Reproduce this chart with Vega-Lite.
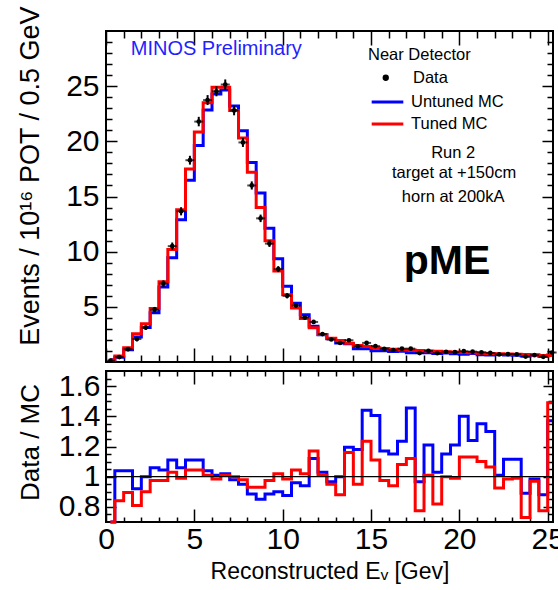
{
  "$schema": "https://vega.github.io/schema/vega-lite/v6.json",
  "background": "white",
  "padding": {"left": 14, "top": 5, "right": 0, "bottom": 0},
  "config": {
    "font": "Liberation Sans",
    "view": {"stroke": "black", "strokeWidth": 2},
    "axis": {
      "grid": false,
      "domain": false,
      "tickColor": "black",
      "tickWidth": 1.5,
      "labelColor": "black",
      "titleColor": "black",
      "labelFont": "Liberation Sans",
      "titleFont": "Liberation Sans",
      "titleFontWeight": "normal",
      "labelFontSize": 30,
      "titleFontSize": 26,
      "labelFlush": false,
      "labelOverlap": false,
      "labelBound": false,
      "minExtent": 0
    },
    "text": {"font": "Liberation Sans"}
  },
  "datasets": {
    "spectrum": [
      {"e": 0.25, "tuned": 0.18, "untuned": 0.2, "data": 0.12, "err": 0.08},
      {"e": 0.75, "tuned": 0.54, "untuned": 0.43, "data": 0.45, "err": 0.12},
      {"e": 1.25, "tuned": 1.3, "untuned": 1.12, "data": 1.16, "err": 0.18},
      {"e": 1.75, "tuned": 2.57, "untuned": 2.26, "data": 2.08, "err": 0.2},
      {"e": 2.25, "tuned": 3.47, "untuned": 3.12, "data": 3.12, "err": 0.22},
      {"e": 2.75, "tuned": 4.86, "untuned": 4.47, "data": 4.74, "err": 0.25},
      {"e": 3.25, "tuned": 7.28, "untuned": 6.79, "data": 7.1, "err": 0.3},
      {"e": 3.75, "tuned": 10.2, "untuned": 9.46, "data": 10.5, "err": 0.33},
      {"e": 4.25, "tuned": 13.8, "untuned": 12.89, "data": 13.66, "err": 0.37},
      {"e": 4.75, "tuned": 17.5, "untuned": 16.48, "data": 18.29, "err": 0.4},
      {"e": 5.25, "tuned": 20.85, "untuned": 19.63, "data": 21.79, "err": 0.43},
      {"e": 5.75, "tuned": 23.5, "untuned": 22.83, "data": 23.74, "err": 0.45},
      {"e": 6.25, "tuned": 24.9, "untuned": 24.29, "data": 24.53, "err": 0.45},
      {"e": 6.75, "tuned": 24.9, "untuned": 24.66, "data": 25.15, "err": 0.46},
      {"e": 7.25, "tuned": 22.8, "untuned": 23.2, "data": 22.8, "err": 0.44},
      {"e": 7.75, "tuned": 20.3, "untuned": 20.95, "data": 19.9, "err": 0.41},
      {"e": 8.25, "tuned": 17.2, "untuned": 18.08, "data": 16.0, "err": 0.37},
      {"e": 8.75, "tuned": 14.0, "untuned": 15.32, "data": 13.02, "err": 0.34},
      {"e": 9.25, "tuned": 11.0, "untuned": 12.12, "data": 10.73, "err": 0.3},
      {"e": 9.75, "tuned": 8.25, "untuned": 9.36, "data": 8.42, "err": 0.27},
      {"e": 10.25, "tuned": 6.1, "untuned": 6.86, "data": 6.0, "err": 0.23},
      {"e": 10.75, "tuned": 4.9, "untuned": 5.33, "data": 5.12, "err": 0.21},
      {"e": 11.25, "tuned": 3.95, "untuned": 4.29, "data": 4.03, "err": 0.19},
      {"e": 11.75, "tuned": 3.1, "untuned": 3.24, "data": 3.63, "err": 0.18},
      {"e": 12.25, "tuned": 2.5, "untuned": 2.46, "data": 2.53, "err": 0.15},
      {"e": 12.75, "tuned": 2.15, "untuned": 2.11, "data": 2.04, "err": 0.14},
      {"e": 13.25, "tuned": 1.95, "untuned": 1.72, "data": 1.72, "err": 0.13},
      {"e": 13.75, "tuned": 1.7, "untuned": 1.65, "data": 1.97, "err": 0.13},
      {"e": 14.25, "tuned": 1.5, "untuned": 1.21, "data": 1.43, "err": 0.12},
      {"e": 14.75, "tuned": 1.4, "untuned": 1.2, "data": 1.73, "err": 0.12},
      {"e": 15.25, "tuned": 1.3, "untuned": 1.02, "data": 1.44, "err": 0.12},
      {"e": 15.75, "tuned": 1.22, "untuned": 1.02, "data": 1.19, "err": 0.11},
      {"e": 16.25, "tuned": 1.16, "untuned": 0.95, "data": 1.09, "err": 0.1},
      {"e": 16.75, "tuned": 1.12, "untuned": 0.98, "data": 1.21, "err": 0.1},
      {"e": 17.25, "tuned": 1.08, "untuned": 0.83, "data": 1.21, "err": 0.1},
      {"e": 17.75, "tuned": 1.05, "untuned": 0.84, "data": 0.81, "err": 0.09},
      {"e": 18.25, "tuned": 1.0, "untuned": 0.83, "data": 1.01, "err": 0.1},
      {"e": 18.75, "tuned": 0.97, "untuned": 0.78, "data": 0.8, "err": 0.09},
      {"e": 19.25, "tuned": 0.93, "untuned": 0.81, "data": 0.93, "err": 0.09},
      {"e": 19.75, "tuned": 0.9, "untuned": 0.74, "data": 0.89, "err": 0.09},
      {"e": 20.25, "tuned": 0.87, "untuned": 0.7, "data": 0.98, "err": 0.09},
      {"e": 20.75, "tuned": 0.83, "untuned": 0.76, "data": 0.94, "err": 0.09},
      {"e": 21.25, "tuned": 0.8, "untuned": 0.65, "data": 0.88, "err": 0.09},
      {"e": 21.75, "tuned": 0.77, "untuned": 0.63, "data": 0.82, "err": 0.08},
      {"e": 22.25, "tuned": 0.75, "untuned": 0.68, "data": 0.69, "err": 0.08},
      {"e": 22.75, "tuned": 0.72, "untuned": 0.64, "data": 0.71, "err": 0.08},
      {"e": 23.25, "tuned": 0.7, "untuned": 0.62, "data": 0.69, "err": 0.08},
      {"e": 23.75, "tuned": 0.67, "untuned": 0.55, "data": 0.49, "err": 0.07},
      {"e": 24.25, "tuned": 0.64, "untuned": 0.63, "data": 0.62, "err": 0.08},
      {"e": 24.75, "tuned": 0.6, "untuned": 0.53, "data": 0.47, "err": 0.07},
      {"e": 25.25, "tuned": 0.58, "untuned": 0.63, "data": 0.86, "err": 0.09}
    ],
    "ratio": [
      {"e": 0.25, "untuned": 0.7, "tuned": 0.7},
      {"e": 0.75, "untuned": 1.04, "tuned": 0.84},
      {"e": 1.25, "untuned": 1.04, "tuned": 0.895},
      {"e": 1.75, "untuned": 0.92, "tuned": 0.81},
      {"e": 2.25, "untuned": 1.0, "tuned": 0.9},
      {"e": 2.75, "untuned": 1.06, "tuned": 0.975},
      {"e": 3.25, "untuned": 1.045, "tuned": 0.975},
      {"e": 3.75, "untuned": 1.11, "tuned": 1.03},
      {"e": 4.25, "untuned": 1.06, "tuned": 0.99},
      {"e": 4.75, "untuned": 1.11, "tuned": 1.045},
      {"e": 5.25, "untuned": 1.11, "tuned": 1.045},
      {"e": 5.75, "untuned": 1.04, "tuned": 1.01},
      {"e": 6.25, "untuned": 1.01, "tuned": 0.985},
      {"e": 6.75, "untuned": 1.02, "tuned": 1.01},
      {"e": 7.25, "untuned": 0.98, "tuned": 1.0},
      {"e": 7.75, "untuned": 0.95, "tuned": 0.98},
      {"e": 8.25, "untuned": 0.885, "tuned": 0.93},
      {"e": 8.75, "untuned": 0.85, "tuned": 0.93},
      {"e": 9.25, "untuned": 0.885, "tuned": 0.975},
      {"e": 9.75, "untuned": 0.9, "tuned": 1.02},
      {"e": 10.25, "untuned": 0.875, "tuned": 0.985},
      {"e": 10.75, "untuned": 0.96, "tuned": 1.045},
      {"e": 11.25, "untuned": 0.94, "tuned": 1.02},
      {"e": 11.75, "untuned": 1.12, "tuned": 1.17},
      {"e": 12.25, "untuned": 1.03, "tuned": 1.01},
      {"e": 12.75, "untuned": 0.967, "tuned": 0.95},
      {"e": 13.25, "untuned": 1.0, "tuned": 0.88},
      {"e": 13.75, "untuned": 1.195, "tuned": 1.16},
      {"e": 14.25, "untuned": 1.18, "tuned": 0.95},
      {"e": 14.75, "untuned": 1.44, "tuned": 1.235},
      {"e": 15.25, "untuned": 1.405, "tuned": 1.11},
      {"e": 15.75, "untuned": 1.17, "tuned": 0.975},
      {"e": 16.25, "untuned": 1.15, "tuned": 0.94},
      {"e": 16.75, "untuned": 1.235, "tuned": 1.08},
      {"e": 17.25, "untuned": 1.455, "tuned": 1.12},
      {"e": 17.75, "untuned": 0.967, "tuned": 0.775},
      {"e": 18.25, "untuned": 1.21, "tuned": 1.01},
      {"e": 18.75, "untuned": 1.03, "tuned": 0.82},
      {"e": 19.25, "untuned": 1.15, "tuned": 1.0},
      {"e": 19.75, "untuned": 1.21, "tuned": 0.99},
      {"e": 20.25, "untuned": 1.4, "tuned": 1.13},
      {"e": 20.75, "untuned": 1.24, "tuned": 1.13},
      {"e": 21.25, "untuned": 1.35, "tuned": 1.1},
      {"e": 21.75, "untuned": 1.3, "tuned": 1.065},
      {"e": 22.25, "untuned": 1.01, "tuned": 0.925},
      {"e": 22.75, "untuned": 1.115, "tuned": 0.985},
      {"e": 23.25, "untuned": 1.115, "tuned": 0.99},
      {"e": 23.75, "untuned": 0.89, "tuned": 0.73},
      {"e": 24.25, "untuned": 0.985, "tuned": 0.97},
      {"e": 24.75, "untuned": 0.88, "tuned": 0.775},
      {"e": 25.25, "untuned": 1.37, "tuned": 1.49}
    ]
  },
  "spacing": -6,
  "vconcat": [
    {
      "width": 447,
      "height": 331,
      "data": {"name": "spectrum"},
      "resolve": {"axis": {"x": "independent", "y": "independent"}},
      "layer": [
        {
          "mark": {"type": "line", "interpolate": "step", "strokeWidth": 3, "strokeJoin": "miter"},
          "encoding": {
            "x": {
              "field": "e", "type": "quantitative",
              "scale": {"domain": [0, 25.3], "nice": false, "zero": false},
              "axis": {
                "orient": "bottom", "title": null, "labels": false,
                "values": [0,1,2,3,4,5,6,7,8,9,10,11,12,13,14,15,16,17,18,19,20,21,22,23,24,25],
                "tickSize": {"expr": "datum.value % 5 === 0 ? -14 : -7"}
              }
            },
            "y": {
              "field": "untuned", "type": "quantitative",
              "scale": {"domain": [0, 30], "nice": false, "zero": true},
              "axis": {
                "orient": "left",
                "title": "Events / 10¹⁶ POT / 0.5 GeV",
                "titleFontSize": 27,
                "values": [1,2,3,4,5,6,7,8,9,10,11,12,13,14,15,16,17,18,19,20,21,22,23,24,25,26,27,28,29],
                "tickSize": {"expr": "datum.value % 5 === 0 ? -11 : -6"},
                "labelExpr": "datum.value % 5 === 0 ? datum.label : ''",
                "labelPadding": 18,
                "titleAngle": -90,
                "titleX": -68,
                "titleY": -25,
                "titleAlign": "right",
                "titleBaseline": "alphabetic"
              }
            },
            "color": {
              "datum": "Untuned MC",
              "scale": {"domain": ["Untuned MC", "Tuned MC"], "range": ["#0000ff", "#ff0000"]},
              "legend": {
                "orient": "none", "legendX": 264, "legendY": 60,
                "title": null, "padding": 0,
                "symbolType": "stroke", "symbolSize": 1000, "symbolStrokeWidth": 3,
                "clipHeight": 22, "rowPadding": 0,
                "labelFont": "Liberation Sans", "labelFontSize": 16.5, "labelColor": "black",
                "labelOffset": 6
              }
            }
          }
        },
        {
          "mark": {"type": "line", "interpolate": "step", "strokeWidth": 3, "strokeJoin": "miter"},
          "encoding": {
            "x": {
              "field": "e", "type": "quantitative",
              "axis": {
                "orient": "top", "title": null, "labels": false,
                "values": [0,1,2,3,4,5,6,7,8,9,10,11,12,13,14,15,16,17,18,19,20,21,22,23,24,25],
                "tickSize": {"expr": "datum.value % 5 === 0 ? -14 : -7"}
              }
            },
            "y": {
              "field": "tuned", "type": "quantitative",
              "axis": {
                "orient": "right", "title": null, "labels": false,
                "values": [1,2,3,4,5,6,7,8,9,10,11,12,13,14,15,16,17,18,19,20,21,22,23,24,25,26,27,28,29],
                "tickSize": {"expr": "datum.value % 5 === 0 ? -11 : -6"}
              }
            },
            "color": {"datum": "Tuned MC"}
          }
        },
        {
          "mark": {"type": "errorbar", "ticks": false, "color": "black", "thickness": 2},
          "encoding": {
            "x": {"field": "e", "type": "quantitative", "axis": null},
            "y": {"field": "data", "type": "quantitative", "axis": null},
            "yError": {"field": "err"}
          }
        },
        {
          "mark": {"type": "tick", "orient": "horizontal", "size": 9, "thickness": 2, "color": "black"},
          "encoding": {
            "x": {"field": "e", "type": "quantitative", "axis": null},
            "y": {"field": "data", "type": "quantitative", "axis": null}
          }
        },
        {
          "mark": {"type": "point", "filled": true, "size": 22, "color": "black", "opacity": 1},
          "encoding": {
            "x": {"field": "e", "type": "quantitative", "axis": null},
            "y": {"field": "data", "type": "quantitative", "axis": null},
            "shape": {
              "datum": "Data",
              "scale": {"domain": ["Data"], "range": ["circle"]},
              "legend": {
                "orient": "none", "legendX": 262, "legendY": 16,
                "title": "Near Detector", "padding": 0,
                "titleFont": "Liberation Sans", "titleFontSize": 16.5, "titleFontWeight": "normal",
                "titleColor": "black", "titlePadding": 6,
                "symbolSize": 40, "symbolFillColor": "black", "symbolStrokeColor": "black",
                "symbolStrokeWidth": 0, "symbolOffset": 9.5,
                "labelFont": "Liberation Sans", "labelFontSize": 16.5, "labelColor": "black",
                "labelOffset": 19
              }
            }
          }
        },
        {
          "data": {"values": [{}]},
          "mark": {"type": "text", "text": "MINOS Preliminary", "align": "left", "baseline": "middle", "fontSize": 20, "color": "#1f1fff"},
          "encoding": {
            "x": {"datum": 1.4, "type": "quantitative", "axis": null},
            "y": {"datum": 28.35, "type": "quantitative", "axis": null}
          }
        },
        {
          "data": {"values": [{}]},
          "mark": {"type": "text", "text": "Run 2", "align": "center", "baseline": "middle", "fontSize": 16.5, "color": "black"},
          "encoding": {
            "x": {"datum": 19.65, "type": "quantitative", "axis": null},
            "y": {"datum": 18.97, "type": "quantitative", "axis": null}
          }
        },
        {
          "data": {"values": [{}]},
          "mark": {"type": "text", "text": "target at +150cm", "align": "center", "baseline": "middle", "fontSize": 16.5, "color": "black"},
          "encoding": {
            "x": {"datum": 19.7, "type": "quantitative", "axis": null},
            "y": {"datum": 17.16, "type": "quantitative", "axis": null}
          }
        },
        {
          "data": {"values": [{}]},
          "mark": {"type": "text", "text": "horn at 200kA", "align": "center", "baseline": "middle", "fontSize": 16.5, "color": "black"},
          "encoding": {
            "x": {"datum": 19.65, "type": "quantitative", "axis": null},
            "y": {"datum": 14.96, "type": "quantitative", "axis": null}
          }
        },
        {
          "data": {"values": [{}]},
          "mark": {"type": "text", "text": "pME", "align": "center", "baseline": "alphabetic", "fontSize": 41, "fontWeight": "bold", "color": "black"},
          "encoding": {
            "x": {"datum": 19.3, "type": "quantitative", "axis": null},
            "y": {"datum": 7.98, "type": "quantitative", "axis": null}
          }
        }
      ]
    },
    {
      "width": 447,
      "height": 151,
      "data": {"name": "ratio"},
      "resolve": {"axis": {"x": "independent", "y": "independent"}},
      "layer": [
        {
          "mark": {"type": "line", "interpolate": "step", "strokeWidth": 3, "strokeJoin": "miter", "color": "#0000ff"},
          "encoding": {
            "x": {
              "field": "e", "type": "quantitative",
              "scale": {"domain": [0, 25.3], "nice": false, "zero": false},
              "axis": {
                "orient": "bottom",
                "title": "Reconstructed Eᵥ [Gev]",
                "titleFontSize": 23,
                "values": [0,1,2,3,4,5,6,7,8,9,10,11,12,13,14,15,16,17,18,19,20,21,22,23,24,25],
                "tickSize": {"expr": "datum.value % 5 === 0 ? -13 : -5"},
                "labelExpr": "datum.value % 5 === 0 ? datum.label : ''",
                "labelPadding": 15,
                "titlePadding": -2
              }
            },
            "y": {
              "field": "untuned", "type": "quantitative",
              "scale": {"domain": [0.7, 1.7], "nice": false, "zero": false},
              "axis": {
                "orient": "left",
                "title": "Data / MC",
                "values": [0.75,0.8,0.85,0.9,0.95,1,1.05,1.1,1.15,1.2,1.25,1.3,1.35,1.4,1.45,1.5,1.55,1.6,1.65],
                "tickSize": {"expr": "abs(datum.value*5 - round(datum.value*5)) < 0.001 ? -10 : -5"},
                "labelExpr": "abs(datum.value*5 - round(datum.value*5)) < 0.001 ? format(datum.value, '~g') : ''",
                "labelPadding": 16,
                "titleAngle": -90,
                "titleX": -68,
                "titleY": 71,
                "titleAlign": "center",
                "titleBaseline": "alphabetic"
              }
            }
          }
        },
        {
          "mark": {"type": "line", "interpolate": "step", "strokeWidth": 3, "strokeJoin": "miter", "color": "#ff0000"},
          "encoding": {
            "x": {
              "field": "e", "type": "quantitative",
              "axis": {
                "orient": "top", "title": null, "labels": false,
                "values": [0,1,2,3,4,5,6,7,8,9,10,11,12,13,14,15,16,17,18,19,20,21,22,23,24,25],
                "tickSize": {"expr": "datum.value % 5 === 0 ? -13 : -5"}
              }
            },
            "y": {
              "field": "tuned", "type": "quantitative",
              "axis": {
                "orient": "right", "title": null, "labels": false,
                "values": [0.75,0.8,0.85,0.9,0.95,1,1.05,1.1,1.15,1.2,1.25,1.3,1.35,1.4,1.45,1.5,1.55,1.6,1.65],
                "tickSize": {"expr": "abs(datum.value*5 - round(datum.value*5)) < 0.001 ? -10 : -5"}
              }
            }
          }
        },
        {
          "data": {"values": [{}]},
          "mark": {"type": "rule", "color": "black", "strokeWidth": 1.2},
          "encoding": {
            "y": {"datum": 1, "type": "quantitative", "axis": null}
          }
        }
      ]
    }
  ]
}
